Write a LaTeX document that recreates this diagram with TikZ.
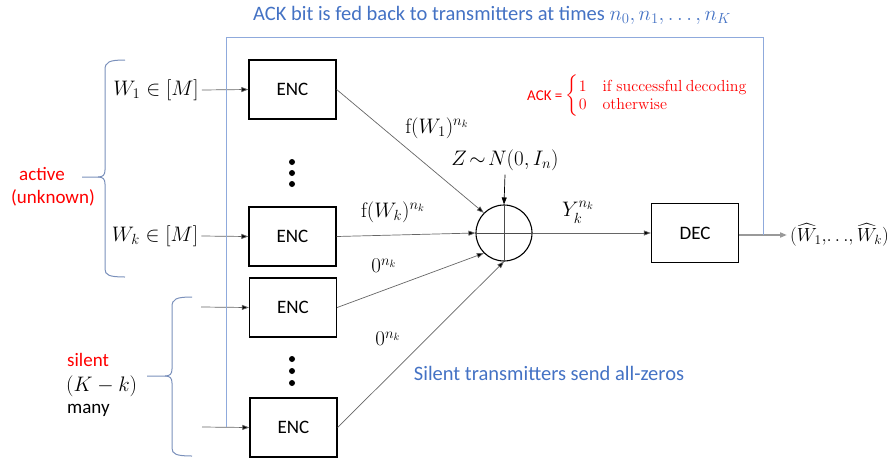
\RequirePackage{fix-cm}
\documentclass[tikz,border=0pt]{standalone}
\usepackage{amsmath}
\usepackage[no-math]{fontspec}
\setmainfont{Carlito}
\usetikzlibrary{arrows.meta}
\definecolor{tblue}{HTML}{4472C4}
\definecolor{lblue}{HTML}{8FAADC}
\definecolor{tred}{HTML}{FF0000}
\tikzset{
  encbox/.style={draw=black, line width=1.3pt, minimum width=87pt, minimum height=59pt, font=\fontsize{19}{22}\selectfont, inner sep=0pt},
  conn/.style={draw=black!60, line width=0.7pt, -{Triangle[length=7pt,width=5pt,fill=black]}},
  fb/.style={draw=lblue, line width=1pt},
  brc/.style={draw=lblue!85!black, line width=1pt},
  lbl/.style={font=\fontsize{19}{22}\selectfont, inner sep=0pt},
  mlbl/.style={font=\fontsize{21}{24}\selectfont, inner sep=0pt},
  tlbl/.style={font=\fontsize{20.5}{24}\selectfont, inner sep=0pt, text=tblue},
  dotc/.style={fill=black, draw=none, circle, minimum size=6pt, inner sep=0pt},
}
\begin{document}
\begin{tikzpicture}[x=1pt,y=-1pt]
\useasboundingbox (0,0) rectangle (896,458);
% title
\node[tlbl] (title) at (492,15) {ACK bit is fed back to transmitters at times {\fontsize{21}{24}\selectfont$n_0, n_1, \ldots, n_K$}};
% encoders
\node[encbox] (e1) at (292.5,89.5) {ENC};
\node[encbox] (e2) at (292.5,236.5) {ENC};
\node[encbox] (e3) at (293,307.5) {ENC};
\node[encbox] (e4) at (293.5,427.5) {ENC};
\node[encbox] (dec) at (695,233) {DEC};
% dots
\node[dotc] (d1) at (292,162) {};
\node[dotc] (d2) at (292,173) {};
\node[dotc] (d3) at (292,184) {};
\node[dotc] (d4) at (292,359) {};
\node[dotc] (d5) at (292,371) {};
\node[dotc] (d6) at (292,383) {};
% sum
\node[draw=black, line width=1.1pt, circle, minimum size=56pt, inner sep=0pt] (s) at (504,233) {};
\draw[line width=0.7pt, black!70] (s.north) -- (s.south) (s.west) -- (s.east);
% inputs
\node[mlbl] (w1) at (156,90) {$W_1 \in [M]$};
\node[mlbl] (wk) at (155,236) {$W_k \in [M]$};
\coordinate (i3) at (201,307);
\coordinate (i4) at (202,427);
\draw[conn] (w1.east) ++(3,0) -- (e1.west);
\draw[conn] (wk.east) ++(3,0) -- (e2.west);
\draw[conn] (i3) -- (e3.west);
\draw[conn] (i4) -- (e4.west);
% to sum
\draw[conn] (e1.east) -- (s.135);
\draw[conn] (e2.east) -- (s.west);
\draw[conn] (e3.east) -- (s.225);
\draw[conn] (e4.east) -- (s.south);
\node[mlbl] (l1) at (437,128) {$\mathrm{f}(W_1)^{n_k}$};
\node[mlbl] (l2) at (393,212) {$\mathrm{f}(W_k)^{n_k}$};
\node[mlbl] (l3) at (384,266) {$0^{n_k}$};
\node[mlbl] (l4) at (388,339) {$0^{n_k}$};
% noise
\node[mlbl] (z) at (505,160) {$Z\!\sim\! N(0,I_n)$};
\draw[conn, draw=black] (z.south) ++(0,4) -- (s.north);
% to decoder
\draw[conn] (s.east) -- (dec.west);
\node[mlbl] (y) at (578,212) {$Y_k^{n_k}$};
% output
\node[font=\fontsize{19}{22}\selectfont, inner sep=0pt, anchor=west] (out) at (790,235) {$(\widehat{W}_1,\!\ldots\!,\widehat{W}_k)$};
\draw[draw=black!40, line width=1.8pt, -{Triangle[length=7pt,width=5pt,fill=black]}] (dec.east |- out) -- ([xshift=-3pt]out.west);
% feedback
\coordinate (fb0) at (763,235);
\coordinate (fb1) at (763,37);
\coordinate (fb2) at (226,37);
\coordinate (fb3) at (226,427);
\draw[fb] (fb0) -- (fb1) -- (fb2) -- (fb3);
% ACK definition
\node[anchor=west, text=tred, inner sep=0pt] (ack) at (527,96) {\fontsize{15}{18}\selectfont ACK = {\fontsize{16}{19}\selectfont$\begin{cases}1 & \mathrm{if\ successful\ decoding}\\[-4pt] 0 & \mathrm{otherwise}\end{cases}$}};
% silent note
\node[tlbl] (silent) at (549,373) {Silent transmitters send all-zeros};
% braces
\draw[brc] (125,60) .. controls (109,60) and (105,62) .. (105,70) -- (105,170) .. controls (105,175) and (103,177) .. (98,177) -- (82,177);
\draw[brc] (98,177) .. controls (103,177) and (105,179) .. (105,184) -- (105,269) .. controls (105,275) and (109,277) .. (125,277);
\draw[brc] (192,297) .. controls (176,297) and (172,299) .. (172,307) -- (172,369) .. controls (172,374) and (170,376) .. (165,376) -- (147,376);
\draw[brc] (165,376) .. controls (170,376) and (172,378) .. (172,383) -- (172,448) .. controls (172,454) and (176,456) .. (192,456);
% group labels
\node[lbl, text=tred] (act) at (42,174) {active};
\node[lbl, text=tred] (unk) at (53,198) {(unknown)};
\node[lbl, text=tred, anchor=west] (sil) at (67,360) {silent};
\node[mlbl, anchor=west] (kk) at (66,386) {$(K-k)$};
\node[lbl, anchor=west] (many) at (67,410) {many};
\end{tikzpicture}
\end{document}
